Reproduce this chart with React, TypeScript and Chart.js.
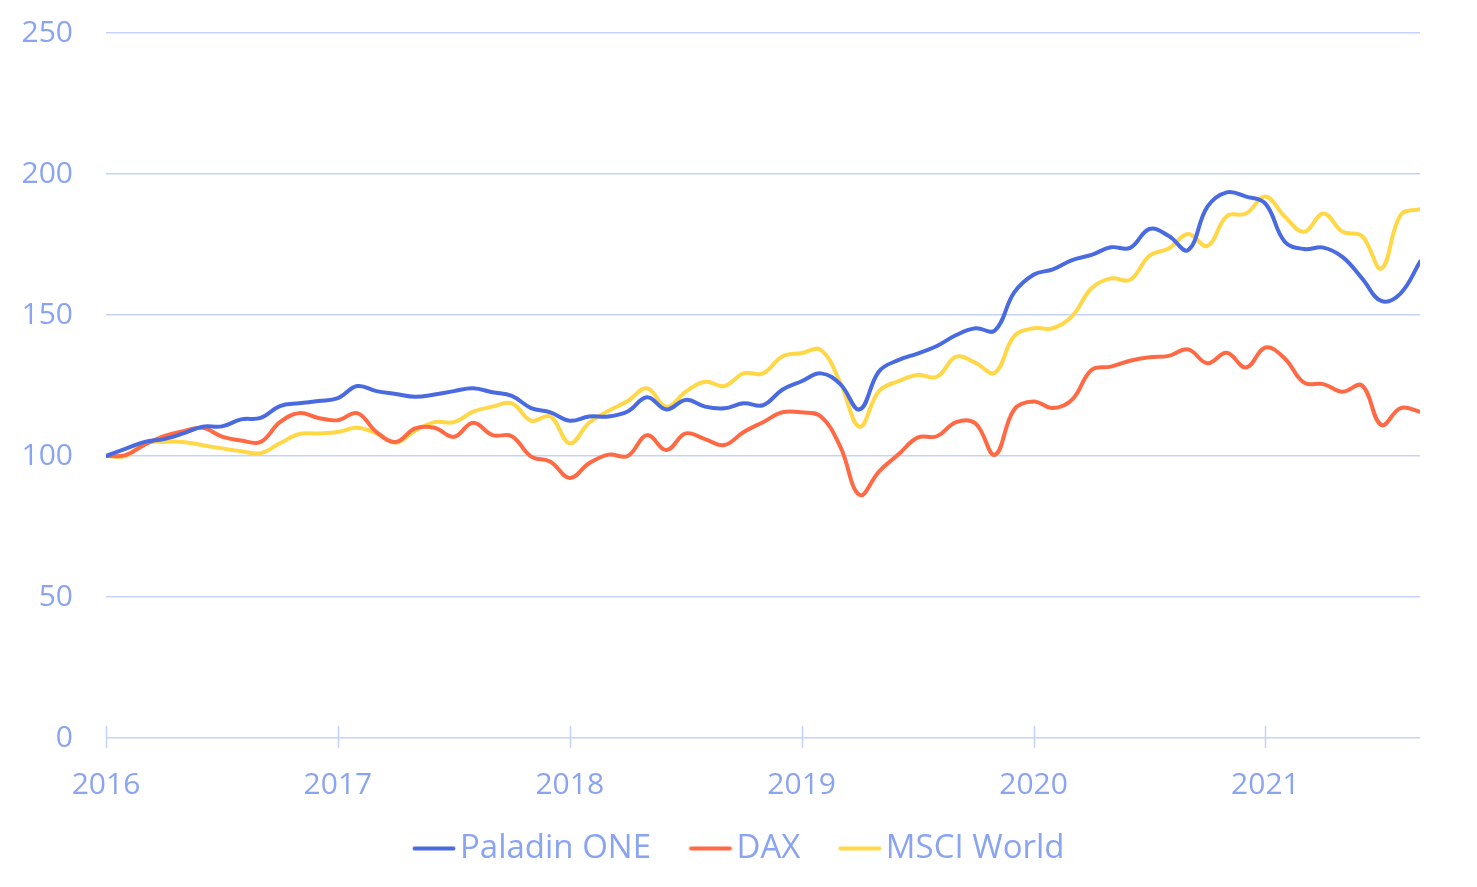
import React, { useEffect, useRef } from "react";
import { Chart, registerables } from "chart.js";

Chart.register(...registerables);

// ---- Data -------------------------------------------------------------
const months: string[] = [
  "2016-01", "2016-02", "2016-03", "2016-04", "2016-05", "2016-06", "2016-07", "2016-08", "2016-09", "2016-10", "2016-11", "2016-12",
  "2017-01", "2017-02", "2017-03", "2017-04", "2017-05", "2017-06", "2017-07", "2017-08", "2017-09", "2017-10", "2017-11", "2017-12",
  "2018-01", "2018-02", "2018-03", "2018-04", "2018-05", "2018-06", "2018-07", "2018-08", "2018-09", "2018-10", "2018-11", "2018-12",
  "2019-01", "2019-02", "2019-03", "2019-04", "2019-05", "2019-06", "2019-07", "2019-08", "2019-09", "2019-10", "2019-11", "2019-12",
  "2020-01", "2020-02", "2020-03", "2020-04", "2020-05", "2020-06", "2020-07", "2020-08", "2020-09", "2020-10", "2020-11", "2020-12",
  "2021-01", "2021-02", "2021-03", "2021-04", "2021-05", "2021-06", "2021-07", "2021-08", "2021-09",
];

const paladinOne: number[] = [
  100, 102.5, 105, 106, 108, 110.4, 110.5, 113, 113.5, 117.7, 118.7, 119.5,
  120.5, 124.8, 123, 122, 121, 121.8, 123, 124, 122.6, 121.3, 117, 115.5,
  112.5, 114, 114, 115.8, 120.8, 116.5, 119.9, 117.5, 116.9, 118.7, 118, 123.5,
  126.5, 129.3, 125.5, 116.5, 130, 134, 136.3, 139, 142.9, 145.3, 144.5, 158,
  164.3, 166.2, 169.5, 171.3, 174, 173.8, 180.5, 178, 173, 188.4, 193.5, 192,
  189.5, 176, 173.4, 173.9, 170.5, 163, 155, 157.7, 168.9,
];

const dax: number[] = [
  100, 100.3, 104, 107, 108.8, 110, 106.9, 105.5, 105, 112, 115.2, 113.5,
  112.7, 115.2, 108.5, 105, 109.8, 110, 106.8, 111.8, 107.4, 107, 99.8, 98,
  92.2, 97.4, 100.5, 100, 107.4, 102.1, 108, 106, 103.9, 108.5, 112, 115.5,
  115.5, 114, 103.3, 86.2, 94.5, 100.5, 106.5, 107, 112, 111.5, 100.4, 116.5,
  119.3, 117, 120, 130.5, 131.7, 133.8, 135, 135.5, 137.8, 132.9, 136.6, 131.4,
  138.5, 134.6, 126, 125.5, 122.8, 125, 111, 117, 115.7,
];

const msciWorld: number[] = [
  100, 100, 104.5, 105, 105, 103.8, 102.7, 101.7, 101, 104.5, 107.8, 108,
  108.5, 110, 108, 104.7, 109, 112, 112, 115.7, 117.5, 118.7, 112.5, 114,
  104.5, 111.8, 116, 119.5, 124, 117.5, 122.8, 126.3, 124.8, 129.3, 129.3, 135.3,
  136.5, 137.6, 126, 110.4, 123, 126.5, 128.7, 128.1, 135.2, 133, 129.5, 142.5,
  145.3, 145.3, 149.6, 159.5, 163, 162.5, 171, 173.6, 178.7, 174.5, 185, 186,
  192, 184.9, 179.5, 186, 179.5, 178, 166.5, 185.5, 187.5,
];

const seriesNames: string[] = ["Paladin ONE", "DAX", "MSCI World"];
const yearTicks: number[] = [2016, 2017, 2018, 2019, 2020, 2021];
const yTicks: number[] = [0, 50, 100, 150, 200, 250];

// ---- Styles -----------------------------------------------------------
const COLORS = ["#4a6ae0", "#ff6a45", "#ffd747"];
const TEXT = "#8aa4f2";
const GRID = "#c4d3fb";
const FONT = "'Open Sans'";
const LEGEND_SIZE = 33;
const LEGEND_BOX = 31;

const toYear = (m: string) => {
  const [y, mo] = m.split("-").map(Number);
  return y + (mo - 1) / 12;
};

// Legend swatch: a 43px line ending just before the label text.
function makeLegendLine(color: string): HTMLCanvasElement {
  const half = LEGEND_SIZE / 2;
  const W = Math.round(LEGEND_BOX + 2 * half);
  const c = document.createElement("canvas");
  c.width = W;
  c.height = 8;
  const ctx = c.getContext("2d")!;
  const start = half;
  ctx.strokeStyle = color;
  ctx.lineWidth = 4;
  ctx.lineCap = "round";
  ctx.beginPath();
  ctx.moveTo(start + 2, 4);
  ctx.lineTo(start + 41, 4);
  ctx.stroke();
  return c;
}

const yearTickMarks = {
  id: "yearTickMarks",
  beforeDatasetsDraw(chart: any) {
    const xs = chart.scales.x;
    const y0 = chart.chartArea.bottom;
    const ctx = chart.ctx;
    ctx.save();
    ctx.strokeStyle = GRID;
    ctx.lineWidth = 1.5;
    xs.ticks.forEach((t: any) => {
      const px = Math.round(xs.getPixelForValue(t.value)) + 0.5;
      ctx.beginPath();
      ctx.moveTo(px, y0 - 12);
      ctx.lineTo(px, y0 + 10);
      ctx.stroke();
    });
    ctx.restore();
  },
};

export default function App() {
  const ref = useRef<HTMLCanvasElement>(null);

  useEffect(() => {
    if (!ref.current) return;
    const xs = months.map(toYear);
    const all = [paladinOne, dax, msciWorld];
    const legendLines = COLORS.map(makeLegendLine);

    const chart = new Chart(ref.current, {
      type: "line",
      data: {
        datasets: all.map((vals, i) => ({
          label: seriesNames[i],
          data: vals.map((v, j) => ({ x: xs[j], y: v })),
          borderColor: COLORS[i],
          backgroundColor: COLORS[i],
          borderWidth: 4,
          pointRadius: 0,
          tension: 0.4,
          borderCapStyle: "round",
          borderJoinStyle: "round",
          fill: false,
        })),
      },
      options: {
        responsive: false,
        animation: false,
        layout: { padding: { left: 0, right: 0, top: 33, bottom: 12 } },
        scales: {
          x: {
            type: "linear",
            min: toYear(months[0]),
            max: toYear(months[months.length - 1]),
            afterBuildTicks: (scale: any) => {
              scale.ticks = yearTicks.map((v) => ({ value: v }));
            },
            afterFit: (scale: any) => {
              scale.height = 56;
              scale.paddingRight = 57;
            },
            ticks: {
              color: TEXT,
              font: { family: FONT, size: 30 },
              padding: 29,
              maxRotation: 0,
              autoSkip: false,
              callback: (v: any) => String(v),
            },
            grid: { display: false, drawTicks: false },
            border: { display: false },
          },
          y: {
            min: 0,
            max: 250,
            afterBuildTicks: (scale: any) => {
              scale.ticks = yTicks.map((v) => ({ value: v }));
            },
            afterFit: (scale: any) => {
              scale.width = 106;
              scale.paddingTop = 0;
              scale.paddingBottom = 0;
            },
            ticks: {
              color: TEXT,
              font: { family: FONT, size: 30 },
              padding: 33,
            },
            grid: { color: GRID, lineWidth: 1.5, drawTicks: false },
            border: { display: false },
          },
        },
        plugins: {
          tooltip: { enabled: false },
          legend: {
            position: "bottom",
            maxHeight: 81,
            labels: {
              color: TEXT,
              font: { family: FONT, size: LEGEND_SIZE },
              usePointStyle: true,
              pointStyleWidth: LEGEND_BOX,
              boxHeight: LEGEND_SIZE,
              padding: 38,
              generateLabels: (c: any) =>
                Chart.defaults.plugins.legend.labels
                  .generateLabels(c)
                  .map((l: any, i: number) => ({ ...l, pointStyle: legendLines[i] })),
            },
          },
        },
      },
      plugins: [yearTickMarks],
    } as any);

    return () => chart.destroy();
  }, []);

  return (
    <div style={{ position: "absolute", left: 0, top: 0, width: 1477, height: 887, background: "#fff" }}>
      <canvas ref={ref} width={1477} height={887} style={{ display: "block" }} />
    </div>
  );
}
